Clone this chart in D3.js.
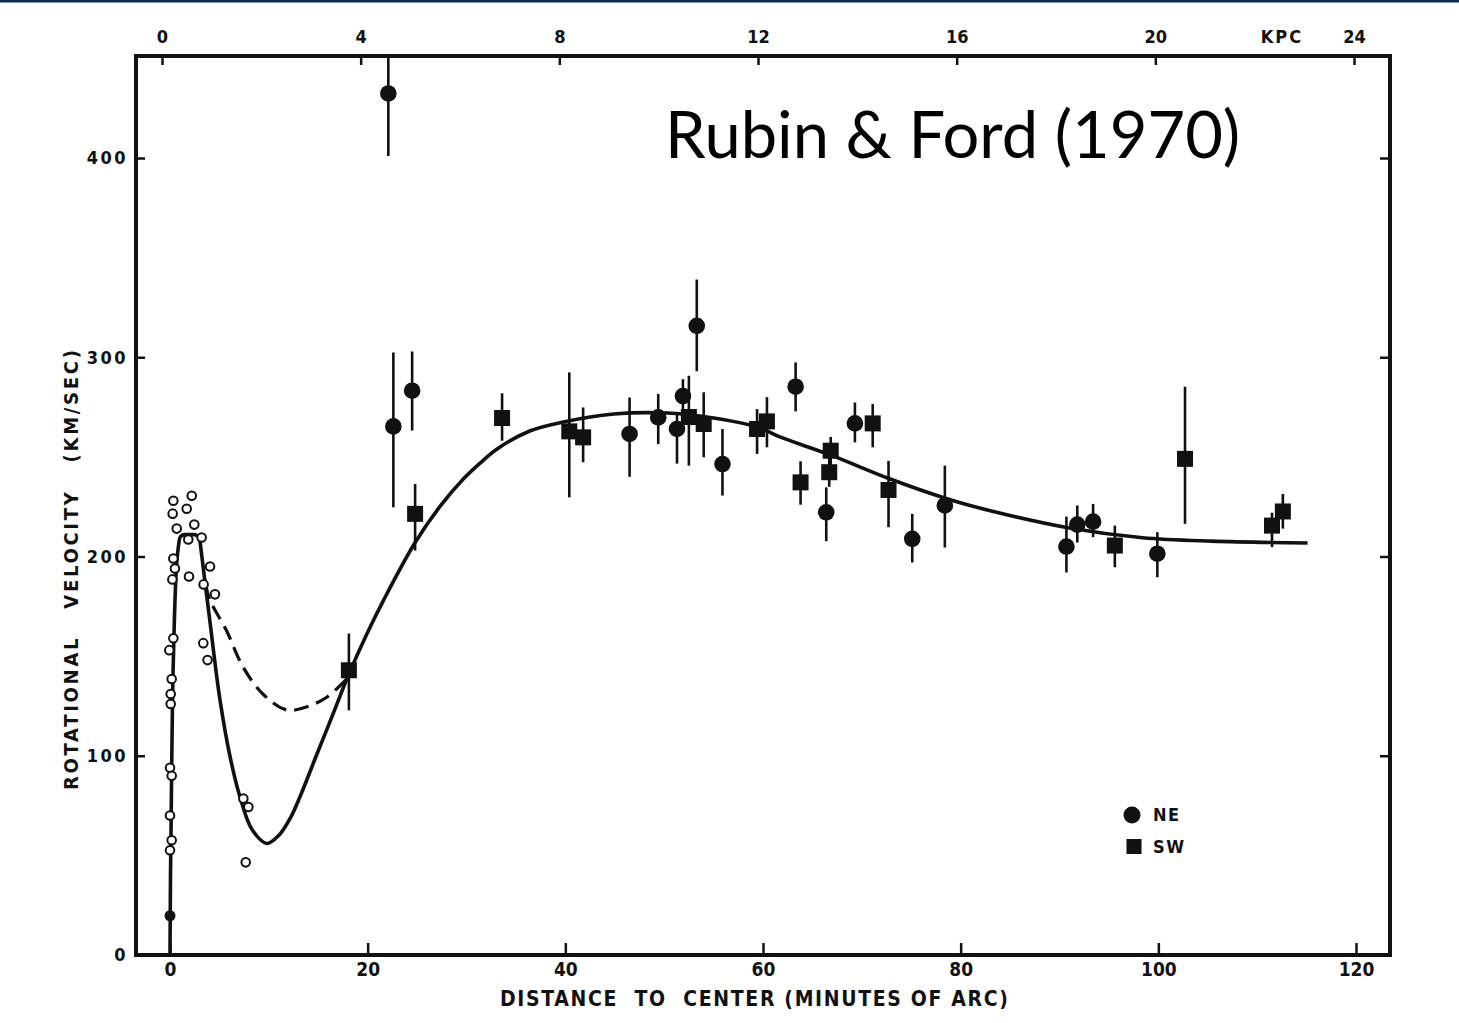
<!DOCTYPE html>
<html>
<head>
<meta charset="utf-8">
<script src="https://cdn.jsdelivr.net/npm/d3@7"></script>
<style>
  html, body { margin: 0; padding: 0; background: #fff; }
  svg { display: block; }
  .lbl { font-family: "Liberation Sans Narrow", "DejaVu Sans Condensed", "Roboto Condensed", "DejaVu Sans", sans-serif; font-weight: bold; fill: #111; }
</style>
</head>
<body>
<svg id="chart" width="1459" height="1023"></svg>
<script>
// ---------------- data ----------------
const xTicks = [0, 20, 40, 60, 80, 100, 120];          // minutes of arc
const yTicks = [0, 100, 200, 300, 400];                 // km/sec
const kpcTicks = [0, 4, 8, 12, 16, 20, 24];             // kpc (top axis)

// solid fitted rotation curve, steep inner part [arcmin, km/s]
const curveSolidInner = [
  [0,0],[0.05,40],[0.1,60],[0.17,94],[0.25,126],[0.4,160],[0.6,190],[0.85,205],[1.05,210],
  [1.5,211],[2.5,211],[3.0,209]
];
// solid fitted rotation curve, outer part [arcmin, km/s]
const curveSolidOuter = [
  [3.0,209],[4.0,169],[5.06,128],[6.1,99],[7.1,79],[8.3,63],[9.8,56],
  [11,60],[12.2,69],[13.2,80],[14.8,100],[16.5,121],[18.1,141],[20,162],[21.6,178],
  [24.8,207],[27.3,225],[29.7,239],[31.4,247],[33.1,254],[36.4,263],[39.8,267.5],[44.9,271.5],
  [50.3,272],[54.3,270],[59.4,265],[61.7,260],[66.8,251],[72.8,239],[78.6,229],
  [83.2,222.7],[91,214.3],[98.4,209.4],[105.4,207.7],[115.1,206.8]
];
// dashed alternative curve in the inner region
const curveDashed = [
  [3.6,186],[4.05,178],[5.7,163],[7.4,144.5],[9.4,131],[11.8,123],[13.8,124.5],[15.9,129.5],[17.9,138.7]
];
// open circles (inner emission data) [arcmin, km/s]
const openPoints = [
  [0.34,228],[2.2,230.5],[1.69,224],[0.27,221.5],[0.68,214],[2.46,216],[1.85,208.5],[3.2,209.5],
  [0.34,199],[0.5,194],[0.24,188.5],[1.92,190],[4.05,195],[4.55,181],[3.4,186],
  [0.34,159],[-0.07,153],[3.37,156.5],[3.8,148],[0.17,138.5],[0.07,131],[0.07,126],
  [0,94],[0.17,90],[0,70],[0.17,57.6],[0,52.6],[7.42,78.5],[7.93,74.3],[7.66,46.5]
];
// filled central point
const centerPoint = [[0,19.7]];
// NE side: [arcmin, km/s, low, high]
const nePoints = [
  [22.09,432.4,401,451],[22.6,265.3,224.7,302.4],[24.5,283.2,263.2,302.9],
  [46.5,261.5,240,279.8],[49.4,269.8,256.4,281.6],[51.9,280.5,272,289],[51.3,264,246.6,272],
  [53.3,315.8,293,339],[55.9,246.4,230.6,264],[63.3,285.2,272.8,297.4],[66.4,222.2,207.7,234.7],
  [69.3,266.8,257.3,277.3],[75.1,208.9,197,221.4],[78.4,225.6,204.5,245.6],[90.7,205,192,220],
  [91.8,216,207,225.6],[93.4,217.5,209.7,226.4],[99.9,201.4,189.6,212.2]
];
// SW side: [arcmin, km/s, low, high]
const swPoints = [
  [18.1,142.9,122.8,161.3],[24.8,221.4,203,236.4],[33.6,269.5,258.1,281.9],[40.4,262.8,229.7,292.4],
  [41.8,259.8,247.3,274.8],[52.5,270,245.6,290.7],[54,266.5,249.8,282.4],[59.4,264,251.5,274],
  [60.4,267.8,254.8,280],[63.8,237.2,226,247.8],[66.7,242.3,235,250],[66.85,253.1,246,260],
  [71.1,266.8,254.8,276.5],[72.7,233.4,214.7,248],[95.6,205.5,194.6,215.5],
  [102.7,249,216.4,285.2],[111.5,215.5,204.7,222],[112.6,222.6,214,231.4]
];
const legendItems = ["NE", "SW"];
const xTitle = "DISTANCE  TO  CENTER (MINUTES OF ARC)";
const yTitle = "ROTATIONAL   VELOCITY   (KM/SEC)";
const overlayTitle = "Rubin & Ford (1970)";

// ---------------- layout ----------------
const svg = d3.select("#chart");
const L = 136, R = 1390, T = 56, B = 955;

const x = d3.scaleLinear().domain([0, 120]).range([170, 1356]);
const y = d3.scaleLinear().domain([0, 400]).range([955, 158]);
const kpc = d3.scaleLinear().domain([0, 24]).range([162, 1354]);

svg.append("rect").attr("x", 0).attr("y", 0).attr("width", 1459).attr("height", 1023).attr("fill", "#fff");
svg.append("rect").attr("x", 0).attr("y", 0).attr("width", 1459).attr("height", 2.5).attr("fill", "#0a2b4f");

// axes
function styleAxis(g, fs) {
  g.select(".domain").remove();
  g.selectAll(".tick line").attr("stroke", "#111").attr("stroke-width", 2.5);
  g.selectAll(".tick text").attr("class", "lbl").style("font-size", fs + "px").attr("fill", "#111");
}
svg.append("g").attr("transform", `translate(0,${B})`)
  .call(d3.axisBottom(x).tickValues(xTicks).tickSize(-12).tickPadding(8))
  .call(g => styleAxis(g, 19));
svg.append("g").attr("transform", `translate(${L},0)`)
  .call(d3.axisLeft(y).tickValues(yTicks).tickSize(-9).tickPadding(8))
  .call(g => styleAxis(g, 18))
  .call(g => g.selectAll(".tick text").style("letter-spacing", "2.5px"));
svg.append("g").attr("transform", `translate(${R},0)`)
  .call(d3.axisRight(y).tickValues(yTicks.slice(1)).tickSize(-10).tickFormat(""))
  .call(g => styleAxis(g, 18));
svg.append("g").attr("transform", `translate(0,${T})`)
  .call(d3.axisTop(kpc).tickValues(kpcTicks).tickSize(-9).tickPadding(13))
  .call(g => styleAxis(g, 18));
svg.append("text").attr("class", "lbl").attr("x", kpc(22.55)).attr("y", T - 13)
  .attr("text-anchor", "middle").style("font-size", "18px").style("letter-spacing", "2px").text("KPC");

// frame
svg.append("path")
  .attr("d", `M${L},${T}H${R}V${B}H${L}Z`)
  .attr("fill", "none").attr("stroke", "#111").attr("stroke-width", 4).attr("stroke-linejoin", "miter");

// axis titles
svg.append("text").attr("class", "lbl")
  .attr("x", 500).attr("y", 1006).attr("textLength", 508).attr("lengthAdjust", "spacing")
  .style("font-size", "21px").style("white-space", "pre").text(xTitle);
svg.append("text").attr("class", "lbl")
  .attr("transform", "translate(78,790) rotate(-90)")
  .attr("textLength", 440).attr("lengthAdjust", "spacing")
  .style("font-size", "20px").style("white-space", "pre").text(yTitle);

// curves
const lineInner = d3.line().x(d => x(d[0])).y(d => y(d[1])).curve(d3.curveMonotoneX);
const lineSmooth = d3.line().x(d => x(d[0])).y(d => y(d[1])).curve(d3.curveCatmullRom.alpha(0.5));
svg.append("path").datum(curveSolidInner).attr("d", lineInner)
  .attr("fill", "none").attr("stroke", "#111").attr("stroke-width", 3.6).attr("stroke-linejoin", "round");
svg.append("path").datum(curveSolidOuter).attr("d", lineSmooth)
  .attr("fill", "none").attr("stroke", "#111").attr("stroke-width", 3.6).attr("stroke-linejoin", "round");
svg.append("path").datum(curveDashed).attr("d", lineSmooth)
  .attr("fill", "none").attr("stroke", "#111").attr("stroke-width", 3.2).attr("stroke-dasharray", "15,8");

// error bars
const bars = nePoints.concat(swPoints);
svg.append("g").selectAll("line").data(bars).join("line")
  .attr("x1", d => x(d[0])).attr("x2", d => x(d[0]))
  .attr("y1", d => y(d[2])).attr("y2", d => y(d[3]))
  .attr("stroke", "#111").attr("stroke-width", 2.6);

// open circles
svg.append("g").selectAll("circle").data(openPoints).join("circle")
  .attr("cx", d => x(d[0])).attr("cy", d => y(d[1])).attr("r", 4.3)
  .attr("fill", "#fff").attr("stroke", "#111").attr("stroke-width", 2);
svg.append("g").selectAll("circle").data(centerPoint).join("circle")
  .attr("cx", d => x(d[0])).attr("cy", d => y(d[1])).attr("r", 5.5).attr("fill", "#111");

// NE filled circles
svg.append("g").selectAll("circle").data(nePoints).join("circle")
  .attr("cx", d => x(d[0])).attr("cy", d => y(d[1])).attr("r", 8.3).attr("fill", "#111");
// SW squares
const S = 16;
svg.append("g").selectAll("rect").data(swPoints).join("rect")
  .attr("x", d => x(d[0]) - S / 2).attr("y", d => y(d[1]) - S / 2)
  .attr("width", S).attr("height", S).attr("fill", "#111");

// legend
const lg = svg.append("g");
lg.append("circle").attr("cx", 1132).attr("cy", 815).attr("r", 8.5).attr("fill", "#111");
lg.append("rect").attr("x", 1126.5).attr("y", 839).attr("width", 15).attr("height", 15).attr("fill", "#111");
lg.selectAll("text").data(legendItems).join("text").attr("class", "lbl")
  .attr("x", 1153).attr("y", (d, i) => 821 + i * 32)
  .style("font-size", "18px").style("letter-spacing", "1.5px").text(d => d);

// overlay title
svg.append("text").attr("x", 665).attr("y", 158)
  .style("font-family", "Lato, 'Open Sans', sans-serif").style("font-size", "65px").attr("fill", "#000")
  .text(overlayTitle);
</script>
</body>
</html>
